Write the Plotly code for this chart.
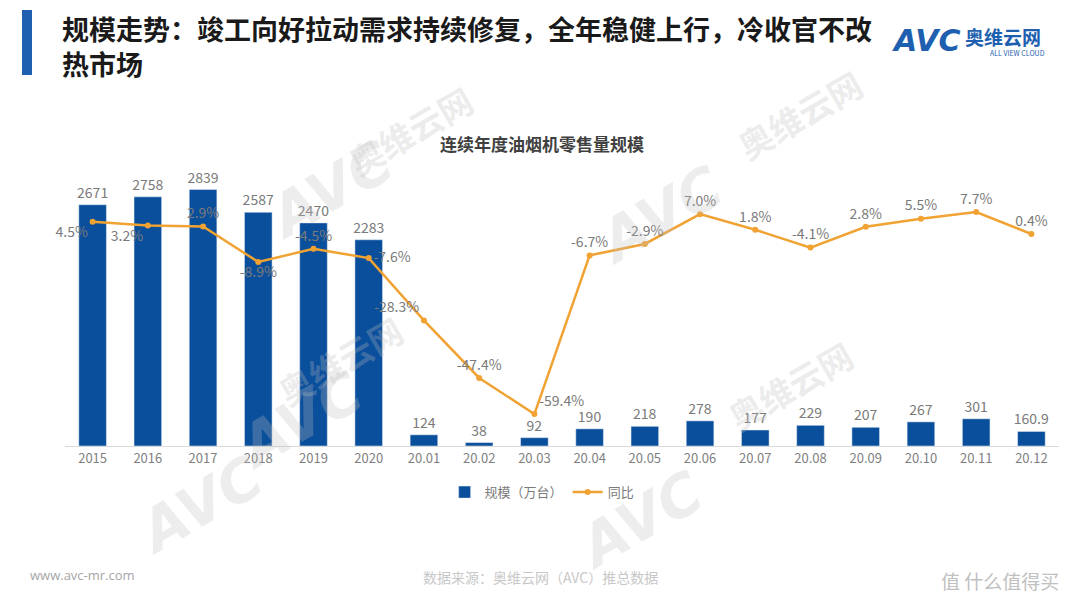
import plotly.graph_objects as go

categories = ["2015", "2016", "2017", "2018", "2019", "2020", "20.01", "20.02", "20.03",
              "20.04", "20.05", "20.06", "20.07", "20.08", "20.09", "20.10", "20.11", "20.12"]
volume = [2671, 2758, 2839, 2587, 2470, 2283, 124, 38, 92, 190, 218, 278, 177, 229, 207, 267, 301, 160.9]
volume_labels = ["2671", "2758", "2839", "2587", "2470", "2283", "124", "38", "92", "190", "218",
                 "278", "177", "229", "207", "267", "301", "160.9"]
yoy = [4.5, 3.2, 2.9, -8.9, -4.5, -7.6, -28.3, -47.4, -59.4, -6.7, -2.9, 7.0, 1.8, -4.1, 2.8, 5.5, 7.7, 0.4]
yoy_labels = [f"{v:.1f}%" for v in yoy]
yoy_pos = ["bottom left", "bottom left", "top center", "bottom center", "top center", "middle right",
           "top left", "top center", "top right"] + ["top center"] * 9

BLUE = "#0a4f9c"
ORANGE = "#f0a232"
GRAY = "#7f7f7f"
FONT = "Noto Sans CJK SC"

# plot area in screenshot pixels (page body adds an 8px offset)
PL, PR, PT, PB = 65, 1059, 175, 446
OFF = 8

fig = go.Figure()
fig.add_trace(go.Bar(
    x=categories, y=volume, name="规模（万台）", marker_color=BLUE, width=0.5,
    text=volume_labels, textposition="outside", cliponaxis=False, constraintext="none",
    textfont=dict(color="#7a7a7a", size=14, family=FONT),
))
fig.add_trace(go.Scatter(
    x=categories, y=yoy, name="同比", yaxis="y2", mode="lines+markers+text",
    line=dict(color=ORANGE, width=2.5), marker=dict(color=ORANGE, size=6),
    text=yoy_labels, textposition=yoy_pos, cliponaxis=False,
    textfont=dict(color="#7a7a7a", size=14, family=FONT),
))

fig.update_layout(
    width=1080, height=608,
    margin=dict(l=PL - OFF, r=1080 - (PR - OFF), t=PT - OFF, b=608 - (PB - OFF)),
    plot_bgcolor="white", paper_bgcolor="white",
    font=dict(family=FONT, color=GRAY),
    showlegend=True,
    legend=dict(orientation="h", x=0.48, xanchor="center", y=-0.115, yanchor="top",
                font=dict(size=13, color="#7a7a7a", family=FONT)),
    xaxis=dict(type="category", range=[-0.5, len(categories) - 0.5], showgrid=False,
               showline=True, linecolor="#d9d9d9", linewidth=1,
               ticks="", tickfont=dict(size=13, color="#7f7f7f")),
    yaxis=dict(range=[0, 3000], visible=False, showgrid=False, zeroline=False),
    yaxis2=dict(range=[-70, 20], overlaying="y", side="right", visible=False, showgrid=False,
                zeroline=False),
)


def px(x, y):
    return dict(xref="paper", yref="paper", x=(x - PL) / (PR - PL), y=(PB - y) / (PB - PT))


anns = [
    dict(text="<b>连续年度油烟机零售量规模</b>", **px(542, 143), xanchor="center", yanchor="middle",
         font=dict(size=17, color="#404040", family=FONT)),
    dict(text="<b>规模走势：竣工向好拉动需求持续修复，全年稳健上行，冷收官不改<br>热市场</b>",
         **px(60, 46), xanchor="left", yanchor="middle", align="left",
         font=dict(size=27, color="#1a1a1a", family=FONT)),
    dict(text="<b><i>AVC</i></b>", **px(890, 40), xanchor="left", yanchor="middle",
         font=dict(size=30, color="#1f5fb0", family="DejaVu Sans")),
    dict(text="<b>奥维云网</b>", **px(963, 36), xanchor="left", yanchor="middle",
         font=dict(size=19, color="#1f5fb0", family=FONT)),
    dict(text="ALL VIEW CLOUD", **px(988, 53), xanchor="left", yanchor="middle",
         font=dict(size=7, color="#1f5fb0", family=FONT)),
    dict(text="www.avc-mr.com", **px(28, 575), xanchor="left", yanchor="middle",
         font=dict(size=13, color="#a6a6a6", family="Open Sans")),
    dict(text="数据来源：奥维云网（AVC）推总数据", **px(540, 577), xanchor="center", yanchor="middle",
         font=dict(size=14, color="#c8c8c8", family=FONT)),
    dict(text="值 什么值得买", **px(1000, 580), xanchor="center", yanchor="middle",
         font=dict(size=19, color="#c0c0c0", family=FONT)),
]
# watermarks
for (wx, wy) in [(330, 190), (660, 215), (200, 505), (640, 520), (300, 420)]:
    anns.append(dict(text="<b><i>AVC</i></b>", **px(wx, wy), xanchor="center", yanchor="middle",
                     textangle=-30, font=dict(size=58, color="rgba(190,190,190,0.28)", family="DejaVu Sans")))
for (wx, wy) in [(410, 130), (800, 115), (340, 360), (790, 385)]:
    anns.append(dict(text="<b>奥维云网</b>", **px(wx, wy), xanchor="center", yanchor="middle",
                     textangle=-30, font=dict(size=34, color="rgba(190,190,190,0.28)", family=FONT)))
for a in anns:
    a["showarrow"] = False
    fig.add_annotation(**a)

fig.add_shape(type="rect", xref="paper", yref="paper",
              x0=(22 - PL) / (PR - PL), x1=(32 - PL) / (PR - PL),
              y0=(PB - 75) / (PB - PT), y1=(PB - 10) / (PB - PT),
              fillcolor="#1f5fb0", line_width=0)

fig.write_html("out.html")
